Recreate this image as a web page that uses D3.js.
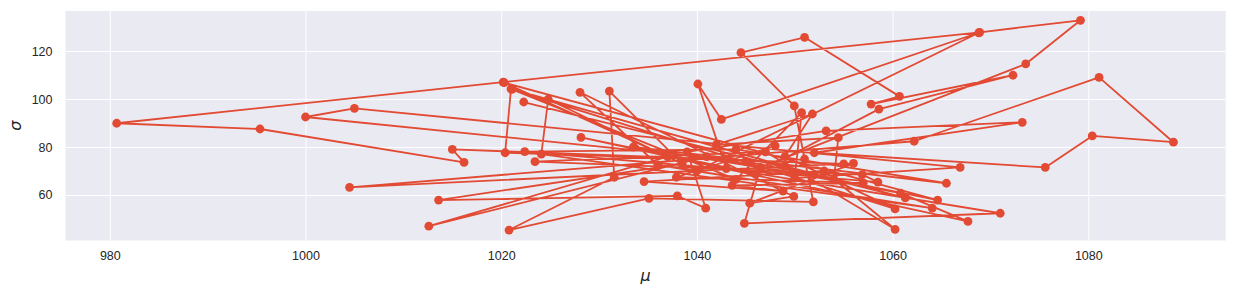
<!DOCTYPE html>
<html><head><meta charset="utf-8">
<script src="https://cdn.jsdelivr.net/npm/d3@7"></script>
<style>
body{margin:0;background:#fff;}
svg text{font-family:"Liberation Sans",Arial,sans-serif;}
</style></head>
<body><svg id="chart" width="1236" height="298"></svg>
<script>
// chain of samples (mu, sigma), in drawing order
const mu = [1022.3,1061.3,1049,1021.0,1020.4,1055,1015.0,1016.2,995.35,980.7,
1020.2,1068.9,1079.2,1073.6,1046.5,1044.85,1071.0,1043,1040.1,1042.5,
1068.8,1040,1024.8,1024.1,1064.05,1036,1028.05,1049.9,1045.4,1056,
1004.5,1062.2,1081.1,1088.7,1080.4,1075.6,1052,1073.25,1053.2,1039,
1040.9,1038.0,1013.6,1038.5,1031.05,1031.55,1020.8,1035.1,1051.9,1051,
1049.95,1044.5,1051.0,1060.7,1057.8,1072.3,1058.6,1046,1028.15,1067.7,
1060.8,1041,1012.6,1037,1020.3,1064.6,1045,1000.0,1005.0,1066.9,
1050,1050.7,1044,1021.1,1060.25,1049,1051.8,1042,1054.45,1054,
1033.5,1065.5,1044,1022.4,1058.5,1056.9,1023.45,1047,1060.25,1053,
1034.6,1048.8,1043.6,1057,1037.9,1048];
const sigma = [98.75,58.8,72,104.2,77.6,73,79.0,73.6,87.5,89.9,
107.0,127.8,132.8,114.6,71.5,48.2,52.4,71,106.25,91.5,
127.6,70,99.9,77.0,54.5,72.5,102.8,59.4,56.6,73.2,
63.2,82.4,109.0,82.0,84.6,71.5,77.6,90.3,86.7,78,
54.5,59.6,57.9,73,103.3,67.4,45.4,58.6,57.1,75,
97.1,119.3,125.7,101.1,97.9,109.9,95.8,69,84.0,49.0,
60.8,76,47.0,76,106.8,57.9,74,92.5,96.1,71.5,
67,94.3,66.5,104.0,54.2,76,93.75,81,83.9,66.5,
80.0,64.9,79,78.05,65.4,68.5,73.9,78,45.7,70,
65.6,61.6,64.0,65.0,67.4,80.5];
const xTicks = [980,1000,1020,1040,1060,1080];
const yTicks = [60,80,100,120];
const xLabel = "μ", yLabel = "σ";

const svg = d3.select("#chart");
const L=65.5, R=1225.7, T=11, B=240.5;
const x = d3.scaleLinear().domain([975.47,1094.04]).range([L,R]);
const y = d3.scaleLinear().domain([41.04,136.67]).range([B,T]);
const color = "#E24A33";

svg.append("rect").attr("x",L).attr("y",T).attr("width",R-L).attr("height",B-T).attr("fill","#EAEAF2");

const gx = svg.append("g").attr("transform",`translate(0,${B})`)
  .call(d3.axisBottom(x).tickValues(xTicks).tickSize(-(B-T)).tickPadding(11).tickFormat(d3.format("d")));
const gy = svg.append("g").attr("transform",`translate(${L},0)`)
  .call(d3.axisLeft(y).tickValues(yTicks).tickSize(-(R-L)).tickPadding(13).tickFormat(d3.format("d")));
[gx,gy].forEach(g=>{
  g.select(".domain").remove();
  g.selectAll(".tick line").attr("stroke","#fff").attr("stroke-width",1);
  g.selectAll(".tick text").attr("fill","#262626").style("font-size","12.5px");
});

const pts = mu.map((m,i)=>[m,sigma[i]]);
const line = d3.line().x(d=>x(d[0])).y(d=>y(d[1]));
const plot = svg.append("g");
plot.append("path").datum(pts).attr("d",line).attr("fill","none")
  .attr("stroke",color).attr("stroke-width",1.8).attr("stroke-linejoin","round");
plot.selectAll("circle").data(pts).join("circle")
  .attr("cx",d=>x(d[0])).attr("cy",d=>y(d[1])).attr("r",4.4).attr("fill",color);

svg.append("text").attr("x",(L+R)/2).attr("y",281).attr("text-anchor","middle")
  .style("font-family","'DejaVu Sans',sans-serif")
  .style("font-size","16px").style("font-style","italic").attr("fill","#262626").text(xLabel);
svg.append("text").attr("transform",`translate(21,${(T+B)/2}) rotate(-90)`).attr("text-anchor","middle")
  .style("font-family","'DejaVu Sans',sans-serif")
  .style("font-size","16px").style("font-style","italic").attr("fill","#262626").text(yLabel);
</script></body></html>
